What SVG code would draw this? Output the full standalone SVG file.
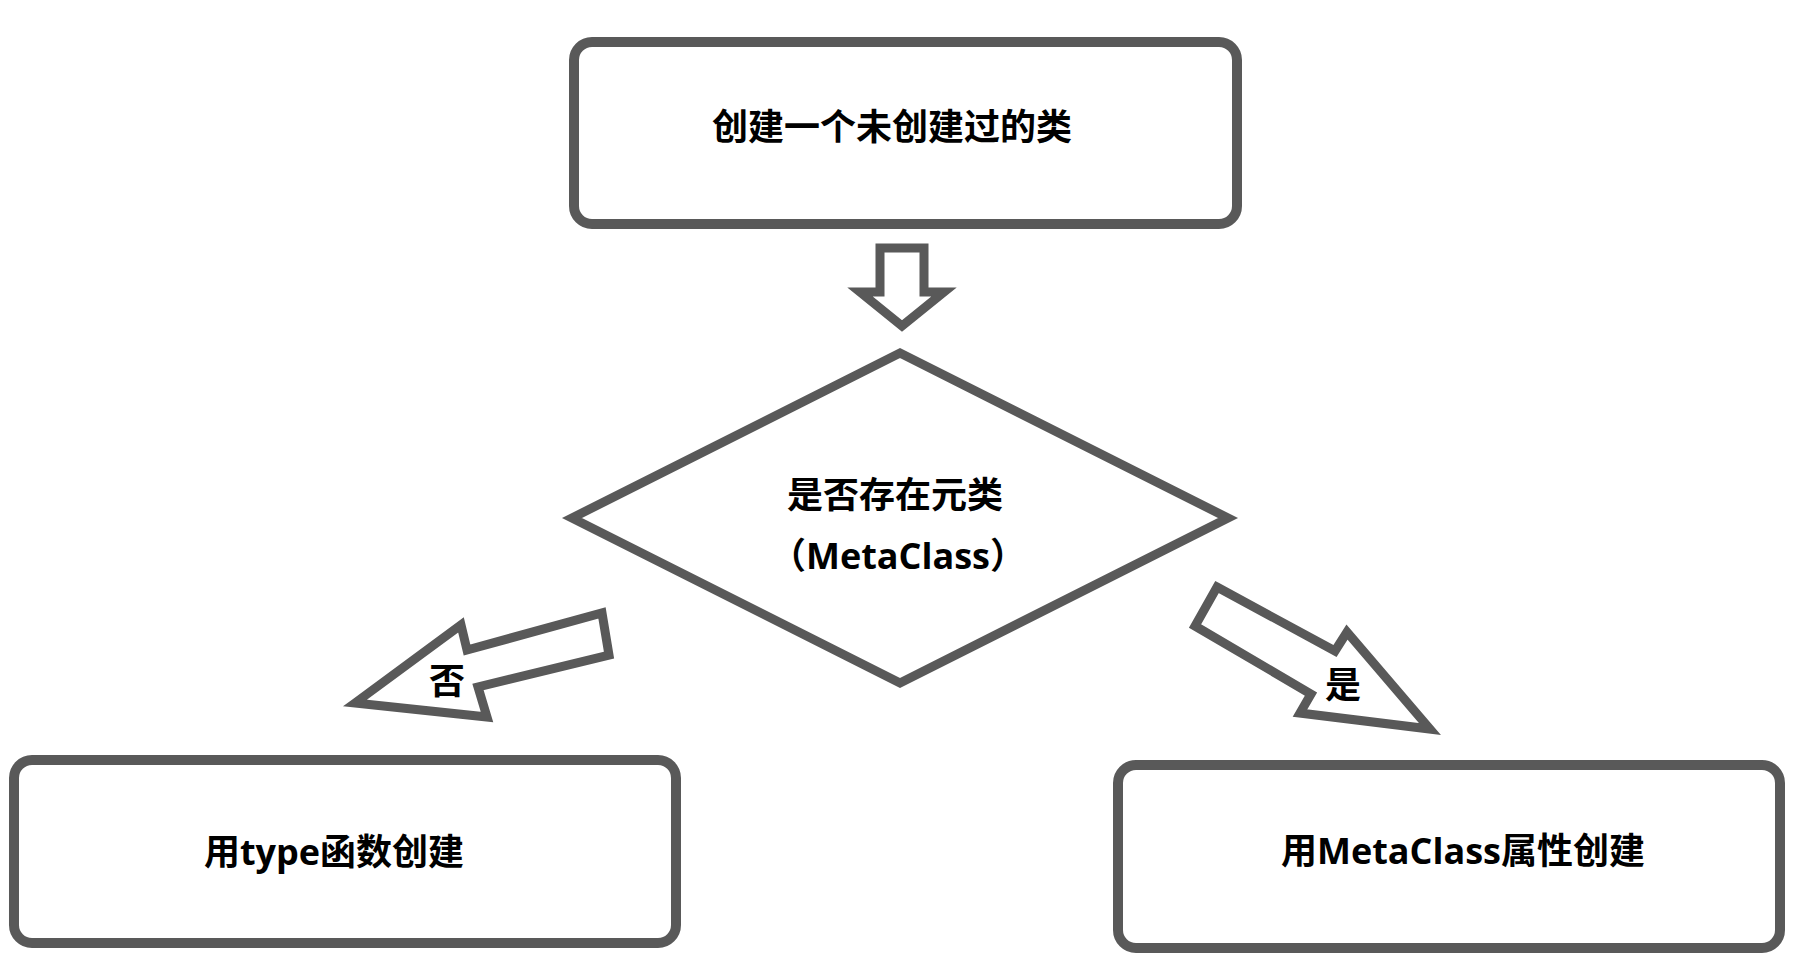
<svg xmlns="http://www.w3.org/2000/svg" width="1794" height="971" viewBox="0 0 1794 971">
  <style>
    .box { fill: #ffffff; stroke: #595959; stroke-width: 10; }
    .shape { fill: #ffffff; stroke: #595959; stroke-width: 9; stroke-linejoin: miter; stroke-miterlimit: 10; }
    .label { font-family: "Open Sans", "Noto Sans CJK SC", sans-serif; font-weight: bold; font-size: 36px; fill: #000000; text-anchor: middle; }
  </style>
  <rect width="1794" height="971" fill="#ffffff"/>
  <g id="connectors">
    <g id="arrow-down">
      <polygon class="shape" points="880,248 924,248 924,292 944,292 902,326 860,292 880,292"/>
    </g>
    <g id="arrow-no">
      <polygon class="shape" points="355,703 461,625 467,650 602,613 609,655 478,687 487,717"/>
      <text class="label" x="447" y="694">否</text>
    </g>
    <g id="arrow-yes">
      <polygon class="shape" points="1217,587 1335,651 1347,632 1430,729 1300,713 1311,694 1195,626"/>
      <text class="label" x="1343" y="698">是</text>
    </g>
  </g>
  <g id="node-start">
    <rect class="box" x="574" y="42" width="663" height="182" rx="18" ry="18"/>
    <text class="label" x="892" y="140">创建一个未创建过的类</text>
  </g>
  <g id="node-decision">
    <polygon class="shape" points="900,353 1228,518 900,683 572,518"/>
    <text class="label" x="895" y="508">是否存在元类</text>
    <text class="label" x="898" y="569">（MetaClass）</text>
  </g>
  <g id="node-type">
    <rect class="box" x="14" y="760" width="662" height="183" rx="18" ry="18"/>
    <text class="label" x="334" y="865">用type函数创建</text>
  </g>
  <g id="node-metaclass">
    <rect class="box" x="1118" y="765" width="662" height="183" rx="18" ry="18"/>
    <text class="label" x="1463" y="864">用MetaClass属性创建</text>
  </g>
</svg>
